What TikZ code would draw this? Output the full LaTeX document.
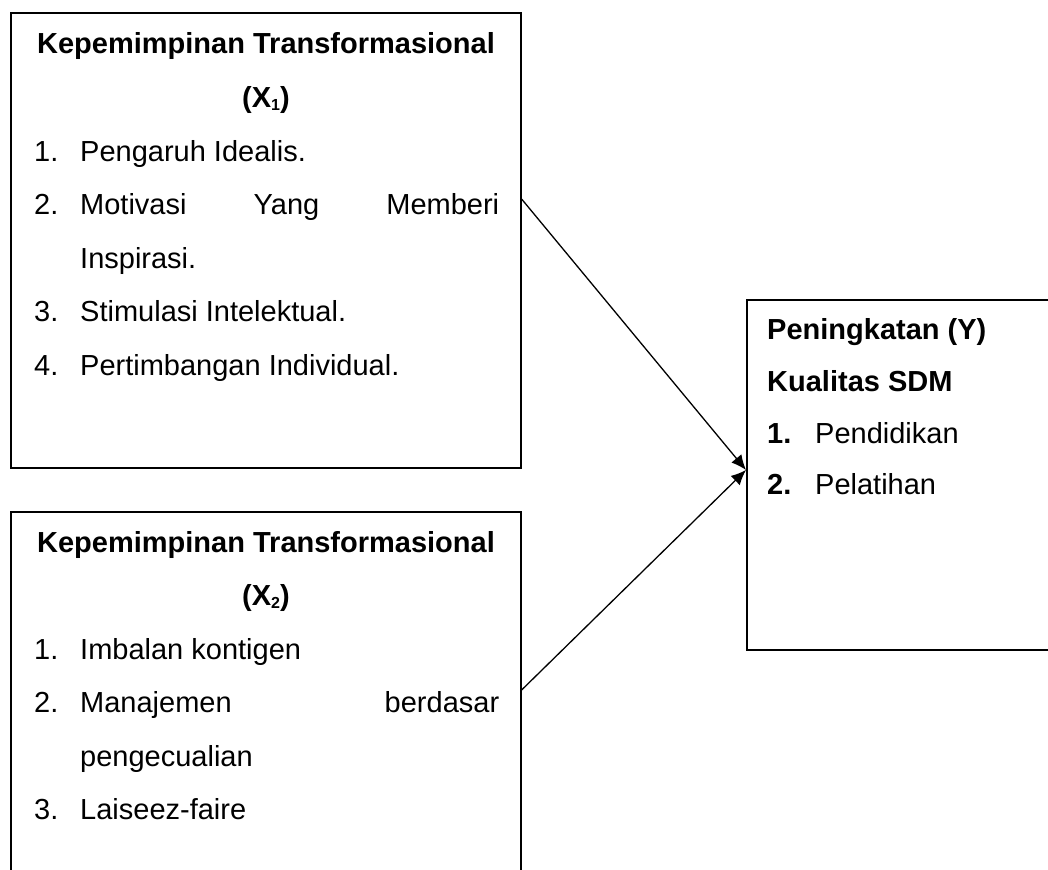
\documentclass[tikz,border=0pt]{standalone}
\usepackage{fontspec}
\setmainfont{Liberation Sans}
\usetikzlibrary{arrows.meta,positioning}

\newcommand{\xsub}[1]{\raisebox{-0.2ex}{\fontsize{16}{16}\selectfont #1}}

\begin{document}
\begin{tikzpicture}[x=1pt,y=-1pt,
  box/.style={draw,line width=1.6pt,anchor=north west,inner sep=0pt},
  txt/.style={anchor=base west,inner sep=0pt,font=\fontsize{29}{34}\selectfont},
  head/.style={txt,font=\fontsize{29}{34}\selectfont\bfseries},
  link/.style={line width=1.3pt,-{Latex[length=15pt,width=13pt]}}]
\useasboundingbox (0,0) rectangle (1048,869);
\clip (0,0) rectangle (1048,869);

% boxes
\node[box,minimum width=510pt,minimum height=455pt] (x1) at (10,12) {};
\node[box,minimum width=510pt,minimum height=380pt] (x2) at (10,511) {};
\node[box,minimum width=320pt,minimum height=350pt] (y) at (746,299) {};

% X1
\node[head,anchor=base] (x1h) at (266,54) {Kepemimpinan Transformasional};
\node[head,anchor=base] (x1s) at (266,107.5) {(X\xsub{1})};
\node[txt] (x1n1) at (34,161) {1.};
\node[txt] (x1t1) at (80,161) {Pengaruh Idealis.};
\node[txt] (x1n2) at (34,214.5) {2.};
\node[txt] (x1t2) at (80,214.5) {\makebox[419pt][s]{Motivasi Yang Memberi}};
\node[txt] (x1t2b) at (80,268) {Inspirasi.};
\node[txt] (x1n3) at (34,321.5) {3.};
\node[txt] (x1t3) at (80,321.5) {Stimulasi Intelektual.};
\node[txt] (x1n4) at (34,375) {4.};
\node[txt] (x1t4) at (80,375) {Pertimbangan Individual.};

% X2
\node[head,anchor=base] (x2h) at (266,552) {Kepemimpinan Transformasional};
\node[head,anchor=base] (x2s) at (266,605.5) {(X\xsub{2})};
\node[txt] (x2n1) at (34,659) {1.};
\node[txt] (x2t1) at (80,659) {Imbalan kontigen};
\node[txt] (x2n2) at (34,712.5) {2.};
\node[txt] (x2t2) at (80,712.5) {\makebox[419pt][s]{Manajemen berdasar}};
\node[txt] (x2t2b) at (80,766) {pengecualian};
\node[txt] (x2n3) at (34,819.5) {3.};
\node[txt] (x2t3) at (80,819.5) {Laiseez-faire};

% Y
\node[head] (yh) at (767,339) {Peningkatan (Y)};
\node[head] (ys) at (767,391) {Kualitas SDM};
\node[head] (yn1) at (767,443) {1.};
\node[txt] (yt1) at (815,443) {Pendidikan};
\node[head] (yn2) at (767,494) {2.};
\node[txt] (yt2) at (815,494) {Pelatihan};

% connectors
\draw[link] (x1.east |- 0,199) -- (y.west |- 0,470);
\draw[link] (x2.east |- 0,690) -- (y.west |- 0,470);
\end{tikzpicture}
\end{document}
